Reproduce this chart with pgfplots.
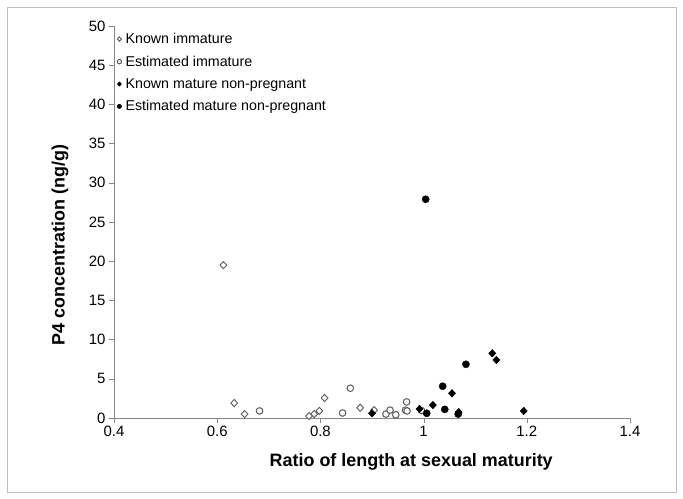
\documentclass[border=0pt]{standalone}
\usepackage{pgfplots}
\pgfplotsset{compat=1.18}
\usepackage{fontspec}
\setmainfont{Liberation Sans}

\definecolor{axisgray}{RGB}{134,134,134}
\definecolor{framegray}{RGB}{190,190,190}
\definecolor{ringgray}{RGB}{90,90,90}

\begin{document}
\begin{tikzpicture}[x=1bp,y=1bp]
    \path (0,0) rectangle (683,499);
    \draw[framegray, line width=0.8bp] (7,7) rectangle (676,492);
    \begin{axis}[
        at={(114bp,81bp)},
        anchor=south west,
        scale only axis,
        width=516bp,
        height=392bp,
        xmin=0.4, xmax=1.4,
        ymin=0, ymax=50,
        xtick={0.4,0.6,0.8,1,1.2,1.4},
        xticklabels={0.4,0.6,0.8,1,1.2,1.4},
        ytick={0,5,...,50},
        axis x line*=bottom,
        axis y line*=left,
        axis line style={axisgray, -},
        tick style={axisgray},
        tick align=outside,
        major tick length=5bp,
        /pgf/number format/assume math mode=true,
        tick label style={font=\fontsize{15}{17}\selectfont, black},
        label style={font=\bfseries\fontsize{18}{20}\selectfont},
        xlabel={Ratio of length at sexual maturity},
        ylabel={P4 concentration (ng/g)},
        x label style={at={(axis description cs:0.576,0)}, yshift=-44bp, anchor=center},
        y label style={at={(axis description cs:0,0.441)}, yshift=54bp, anchor=center},
        legend style={at={(3bp,389bp)}, anchor=north west, draw=none, fill=none,
            font=\fontsize{14.3}{16.5}\selectfont, row sep=6.8bp, inner xsep=0pt},
        legend cell align=left,
        legend image code/.code={\draw[#1, mark size=2.2bp] plot coordinates {(3bp,0bp)}; \path (7bp,0bp);},
        clip=false,
    ]
        % known immature
        \addplot[only marks, mark=diamond*, mark size=3.6bp, mark options={xscale=1.25, fill=white, draw=ringgray, line width=0.9bp}] coordinates {
            (0.612,19.5) (0.633,1.9) (0.653,0.5) (0.778,0.25) (0.788,0.5)
            (0.798,0.9) (0.808,2.55) (0.877,1.3) (0.904,1.0)
        };
        % estimated immature
        \addplot[only marks, mark=*, mark size=3.3bp, mark options={fill=white, draw=ringgray, line width=1bp}] coordinates {
            (0.682,0.9) (0.843,0.64) (0.858,3.8) (0.927,0.5) (0.935,1.0)
            (0.946,0.4) (0.967,2.05) (0.965,1.0) (0.968,0.9) (0.996,0.95)
        };
        % known mature non-pregnant
        \addplot[only marks, mark=diamond*, mark size=3.8bp, mark options={xscale=1.25, fill=black, draw=black}] coordinates {
            (0.900,0.6) (0.992,1.15) (1.018,1.65) (1.055,3.15) (1.068,0.75)
            (1.133,8.25) (1.141,7.4) (1.194,0.9)
        };
        % estimated mature non-pregnant
        \addplot[only marks, mark=*, mark size=3.6bp, mark options={fill=black, draw=black}] coordinates {
            (1.004,27.9) (1.006,0.6) (1.037,4.05) (1.041,1.1) (1.067,0.5) (1.082,6.85)
        };
        \legend{Known immature, Estimated immature, Known mature non-pregnant, Estimated mature non-pregnant}
    \end{axis}
\end{tikzpicture}
\end{document}
